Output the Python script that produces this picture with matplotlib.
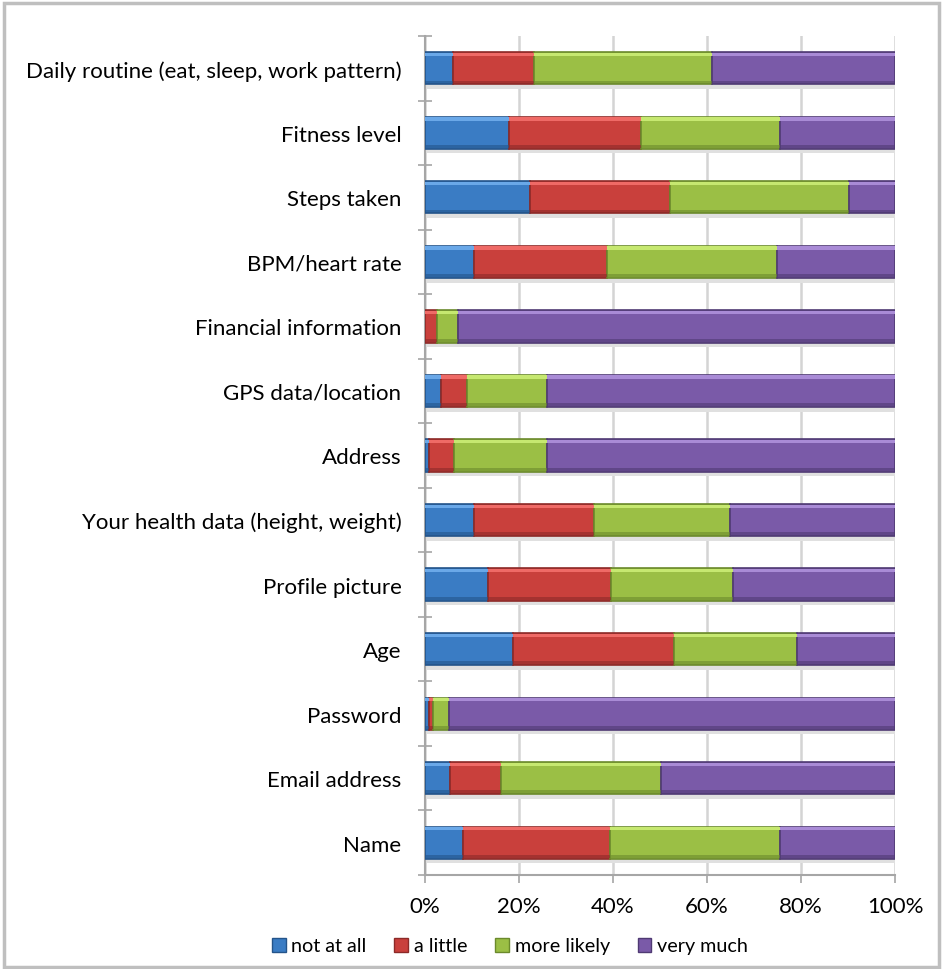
import matplotlib.pyplot as plt
import numpy as np
from matplotlib.patches import Rectangle

categories = [
    "Name", "Email address", "Password", "Age", "Profile picture",
    "Your health data (height, weight)", "Address", "GPS data/location",
    "Financial information", "BPM/heart rate", "Steps taken",
    "Fitness level", "Daily routine (eat, sleep, work pattern)",
]
not_at_all = [8.0, 5.3, 0.9, 18.8, 13.3, 10.5, 0.9, 3.5, 0.0, 10.5, 22.3, 17.8, 6.0]
a_little = [31.4, 10.8, 0.9, 34.2, 26.2, 25.4, 5.2, 5.4, 2.6, 28.2, 29.8, 28.1, 17.2]
more_likely = [36.2, 34.1, 3.4, 26.2, 26.1, 28.9, 19.9, 17.1, 4.5, 36.1, 38.2, 29.7, 37.9]
very_much = [24.4, 49.8, 94.8, 20.8, 34.4, 35.2, 74.0, 74.0, 92.9, 25.2, 9.7, 24.4, 38.9]

series = ["not at all", "a little", "more likely", "very much"]
colors = ["#3a7cc4", "#c9403c", "#9bbf45", "#7a5aa8"]
edges = ["#24548a", "#8c2a28", "#6b8a2c", "#4f3a73"]
lights = ["#6aa8e8", "#ef6a66", "#c6e870", "#a98bd6"]

plt.rcParams['font.family'] = ['Lato', 'DejaVu Sans']

fig = plt.figure(figsize=(9.42, 9.70), dpi=100)
ax = fig.add_axes([425 / 942, 94 / 970, 470 / 942, 839 / 970])

y = np.arange(len(categories))
left = np.zeros(len(categories))
for vals, name, c, e, lt in zip([not_at_all, a_little, more_likely, very_much],
                                series, colors, edges, lights):
    vals = np.array(vals)
    # soft shadow under bars
    ax.barh(y - 0.07, vals, left=left, height=0.5, color="#e0e0e0", zorder=2, linewidth=0)
    ax.barh(y, vals, left=left, height=0.5, color=c, edgecolor=e, linewidth=1.2,
            label=name, zorder=3)
    # bevel: light top edge, dark bottom edge
    ax.barh(y + 0.215, vals, left=left, height=0.05, color=lt, linewidth=0, zorder=4)
    ax.barh(y - 0.215, vals, left=left, height=0.05, color=e, alpha=0.6, linewidth=0, zorder=4)
    left += vals

ax.set_xlim(0, 100)
ax.set_ylim(-0.5, len(categories) - 0.5)
ax.set_xticks(np.arange(0, 101, 20))
ax.set_xticklabels([f"{v}%" for v in range(0, 101, 20)], fontsize=16)
ax.set_yticks(y)
ax.set_yticklabels(categories, fontsize=16)
ax.set_yticks(np.arange(-0.5, len(categories), 1), minor=True)
ax.tick_params(axis='y', which='major', length=0, pad=17)
ax.tick_params(axis='y', which='minor', length=10, direction='inout', color="#a6a6a6", width=1.2)
ax.tick_params(axis='x', length=6, color="#a6a6a6", width=1.2, pad=9)
ax.grid(axis='x', color="#d4d4d4", linewidth=1.8, zorder=0)
ax.set_axisbelow(True)
for s in ["top", "right"]:
    ax.spines[s].set_visible(False)
for s in ["left", "bottom"]:
    ax.spines[s].set_color("#a6a6a6")
    ax.spines[s].set_linewidth(1.5)

handles = [Rectangle((0, 0), 1, 1, facecolor=c, edgecolor=e) for c, e in zip(colors, edges)]
fig.legend(handles, series, loc="center", bbox_to_anchor=(510 / 942, 1 - 947 / 970),
           ncol=4, frameon=False, fontsize=14.2, handlelength=0.7, handleheight=0.7,
           handletextpad=0.3, columnspacing=1.4)

# chart area border
fig.patches.append(Rectangle((4 / 942, 2 / 970), 935 / 942, 964 / 970, transform=fig.transFigure,
                             fill=False, edgecolor="#bfbfbf", linewidth=2.5))

fig.savefig("out.png", dpi=100, facecolor="white")
